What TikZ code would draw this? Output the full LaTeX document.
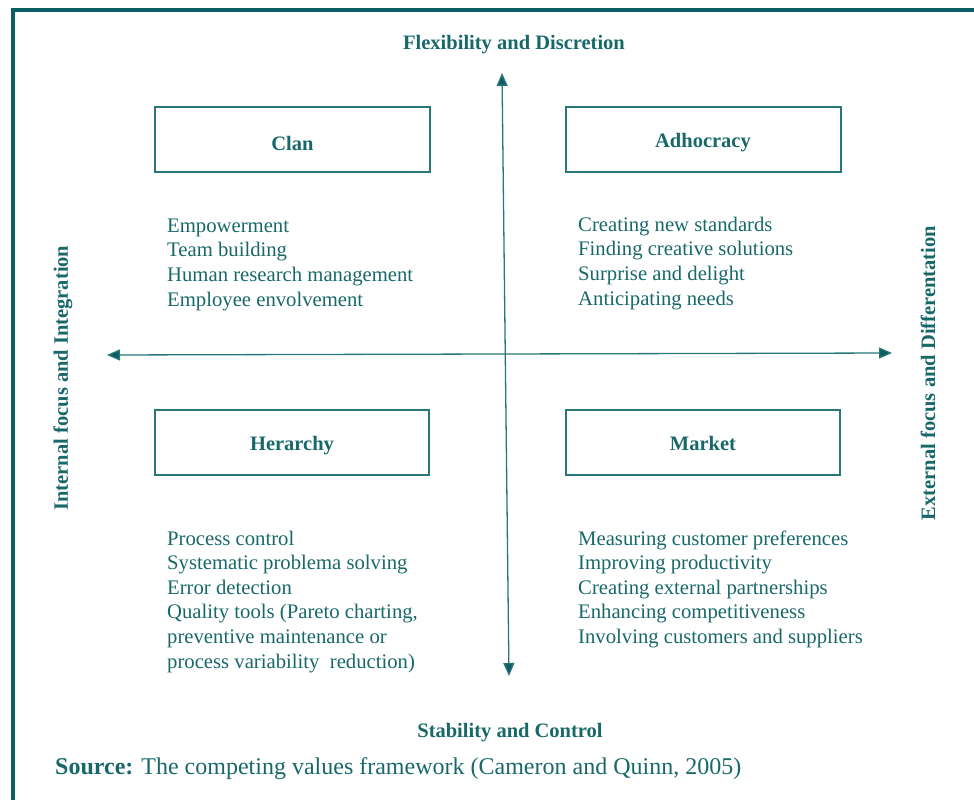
\documentclass[tikz,border=0pt]{standalone}
\usepackage{fontspec}
\setmainfont{Liberation Serif}
\usetikzlibrary{arrows.meta}
\definecolor{frameteal}{RGB}{12,94,98}
\definecolor{inkteal}{RGB}{24,104,106}
\definecolor{axisteal}{RGB}{40,118,120}
\begin{document}
\begin{tikzpicture}[x=1pt,y=-1pt,
  every node/.style={text=inkteal, inner sep=0pt},
  body/.style={font=\fontsize{20.7pt}{24.7pt}\selectfont, anchor=base west},
  headfont/.style={font=\fontsize{20.5pt}{24pt}\selectfont\bfseries},
  typebox/.style={headfont, draw=axisteal, line width=2pt, minimum width=275pt,
    minimum height=65pt, text height=15pt, text depth=0pt},
  axislabel/.style={headfont},
  axis/.style={draw=axisteal, line width=1.3pt,
    {Triangle[length=13pt,width=11pt,fill=frameteal]}-{Triangle[length=13pt,width=11pt,fill=frameteal]}}
]
\useasboundingbox (0,0) rectangle (974,800);

% outer frame (top and left edges)
\draw[frameteal, line width=4pt, line join=miter] (13.3,800) -- (13.3,10) -- (974,10);

% axes
\coordinate (top) at (502,73);
\coordinate (bottom) at (509,676);
\coordinate (left) at (107,355);
\coordinate (right) at (892,353);
\draw[axis] (bottom) -- (top);
\draw[axis] (left) -- (right);

% axis labels
\node[axislabel, anchor=base] (flex) at (514,50) {Flexibility and Discretion};
\node[axislabel, anchor=base] (stab) at (510,737) {Stability and Control};
\node[axislabel, rotate=90] (internal) at (63,378) {Internal focus and Integration};
\node[axislabel, rotate=90] (external) at (928,373) {External focus and Differentation};

% quadrant boxes
\node[typebox, text height=22pt] (clan) at (292.5,139) {Clan};
\node[typebox] (adhoc) at (703,139.5) {Adhocracy};
\node[typebox, minimum width=274pt] (hier) at (292,442.5) {Herarchy};
\node[typebox, minimum width=274pt] (market) at (703,442.5) {Market};

% quadrant lists
\foreach \t [count=\i] in {Empowerment, Team building, Human research management, Employee envolvement}
  \node[body] (clan\i) at (167,232+24.7*\i-24.7) {\t};
\foreach \t [count=\i] in {Creating new standards, Finding creative solutions, Surprise and delight, Anticipating needs}
  \node[body] (adhoc\i) at (578,231+24.7*\i-24.7) {\t};
\foreach \t [count=\i] in {Process control, Systematic problema solving, Error detection,
    {Quality tools (Pareto charting,}, preventive maintenance or, {process variability\ \ reduction)}}
  \node[body] (hier\i) at (167,545+24.6*\i-24.6) {\t};
\foreach \t [count=\i] in {Measuring customer preferences, Improving productivity,
    Creating external partnerships, Enhancing competitiveness, Involving customers and suppliers}
  \node[body] (market\i) at (578,545+24.6*\i-24.6) {\t};

% source line
\node[anchor=base west, font=\fontsize{24pt}{28pt}\selectfont] (source) at (55,774)
  {\textbf{Source:} The competing values framework (Cameron and Quinn, 2005)};
\end{tikzpicture}
\end{document}
